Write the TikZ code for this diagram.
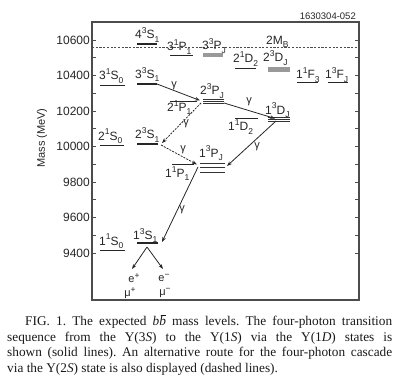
\documentclass[tikz,border=0pt]{standalone}
\usepackage{fontspec}
\setmainfont{Liberation Serif}
\setsansfont{Liberation Sans}
\newfontfamily\labfont{Liberation Sans}
\usetikzlibrary{arrows.meta}
\newcommand{\sups}[1]{\raisebox{0.42em}{\fontsize{8.5}{9}\selectfont #1}}
\newcommand{\subs}[1]{\raisebox{-0.28em}{\fontsize{8.5}{9}\selectfont #1}}
\newcommand{\st}[4]{#1\sups{#2}#3\subs{#4}}
\newcommand{\bbar}{\textit{b}\makebox[0pt][l]{\raisebox{0.74em}{\kern1.6pt\rule{0.4em}{0.55pt}}}\textit{b}}
\tikzset{
  lbl/.style={anchor=base west, inner sep=0pt, font=\labfont\fontsize{12}{14}\selectfont, text=black!85},
  ctr/.style={anchor=center, inner sep=0pt, font=\labfont\fontsize{11}{12}\selectfont, text=black!85},
  obs/.style={line width=2pt, draw=black!85},
  pred/.style={line width=0.7pt, draw=black!85},
  multi/.style={line width=0.8pt, draw=black!80},
  graybar/.style={fill=black!40, draw=none},
  arr/.style={-{Stealth[length=5pt,width=3.6pt]}, line width=0.8pt, draw=black!85},
  dsh/.style={arr, dash pattern=on 2pt off 1.2pt},
  gam/.style={inner sep=0pt, font=\labfont\fontsize{11}{12}\selectfont, text=black!85},
  frame/.style={line width=1.3pt, draw=black!70},
}
\begin{document}
\begin{tikzpicture}[x=1pt,y=-1pt]
\useasboundingbox (0,0) rectangle (395,382);
% frame and axes
\draw[frame] (92,22) rectangle (359,300);
\foreach \m in {9400,9500,...,10600}{
  \draw[line width=0.6pt, black!70] (92,{40+(10600-\m)*0.1775}) -- ++(4,0);
  \draw[line width=0.6pt, black!70] (359,{40+(10600-\m)*0.1775}) -- ++(-4,0);
}
\foreach \m in {9400,9600,...,10600}{
  \node[anchor=east, inner sep=0pt, font=\labfont\fontsize{12}{14}\selectfont, text=black!85] at (90,{40+(10600-\m)*0.1775}) {\m};
}
\node[rotate=90, inner sep=0pt, font=\labfont\fontsize{11}{13}\selectfont, text=black!85] (ylab) at (42,138) {Mass (MeV)};
\node[anchor=base east, inner sep=0pt, font=\labfont\fontsize{9.5}{11}\selectfont, text=black!85] (id) at (356,20) {1630304-052};
% 2MB threshold
\coordinate (thL) at (92,47.5);
\coordinate (thR) at (359,47.5);
\draw[line width=0.6pt, black!70, dash pattern=on 2.2pt off 1.5pt] (thL) -- (thR);
\node[lbl] (mb) at (266,44.5) {2M\subs{B}};

% S singlets (predicted)
\draw[pred] (100,85) -- (125,85);   \node[lbl] (s31) at (99,80) {\st{3}{1}{S}{0}};
\draw[pred] (100,145) -- (124,145); \node[lbl] (s21) at (98,140) {\st{2}{1}{S}{0}};
\draw[pred] (100,250) -- (125,250); \node[lbl] (s11) at (99,245) {\st{1}{1}{S}{0}};
% S triplets (observed)
\coordinate (s4L) at (137,44);  \coordinate (s4R) at (157,44);
\coordinate (s3L) at (137,84);  \coordinate (s3R) at (157,84);
\coordinate (s2L) at (137,144); \coordinate (s2R) at (158,144);
\coordinate (s1L) at (137,243); \coordinate (s1R) at (158,243);
\draw[obs] (s4L) -- (s4R); \node[lbl] (t4) at (135,39) {\st{4}{3}{S}{1}};
\draw[obs] (s3L) -- (s3R); \node[lbl] (t3) at (135,78.5) {\st{3}{3}{S}{1}};
\draw[obs] (s2L) -- (s2R); \node[lbl] (t2) at (135,139) {\st{2}{3}{S}{1}};
\draw[obs] (s1L) -- (s1R); \node[lbl] (t1) at (133,239.5) {\st{1}{3}{S}{1}};
% P states
\draw[pred] (170,55) -- (193,55); \node[lbl] (p31) at (167,51) {\st{3}{1}{P}{1}};
\fill[graybar] (203,53) rectangle (223,57.5);
\node[lbl] (p33) at (202,50) {\st{3}{3}{P}{J}};
\foreach \y in {99,101,103} \draw[multi] (203,\y) -- (224,\y);
\node[lbl] (p23) at (200,95) {\st{2}{3}{P}{J}};
\draw[pred] (170,101) -- (197,101); \node[lbl] (p21) at (167,111.5) {\st{2}{1}{P}{1}};
\foreach \y in {163,167.5,172} \draw[multi] (200,\y) -- (225,\y);
\node[lbl] (p13) at (199,157) {\st{1}{3}{P}{J}};
\draw[pred] (172,164) -- (194,164); \node[lbl] (p11) at (165,177.5) {\st{1}{1}{P}{1}};
% D states
\draw[pred] (235,68) -- (256,68); \node[lbl] (d21) at (233,63) {\st{2}{1}{D}{2}};
\fill[graybar] (268,67.5) rectangle (290,72);
\node[lbl] (d23) at (263,62) {\st{2}{3}{D}{J}};
\foreach \y in {117,119,121} \draw[multi] (268,\y) -- (290,\y);
\node[lbl] (d13) at (265,114) {\st{1}{3}{D}{J}};
\draw[pred] (235,118) -- (258,118); \node[lbl] (d11) at (228,131) {\st{1}{1}{D}{2}};
% F states
\draw[pred] (297,82) -- (318,82); \node[lbl] (f11) at (296,79) {\st{1}{1}{F}{3}};
\draw[pred] (328,82) -- (348,82); \node[lbl] (f13) at (325,79) {\st{1}{3}{F}{J}};

% transitions
\coordinate (a1s) at (157,84);   \coordinate (a1e) at (200,100.5);
\coordinate (a2s) at (201,103);  \coordinate (a2e) at (162,143);
\coordinate (a3s) at (161,145);  \coordinate (a3e) at (197,164.5);
\coordinate (a4s) at (224,103);  \coordinate (a4e) at (275,118.5);
\coordinate (a5s) at (276,121);  \coordinate (a5e) at (227,166);
\coordinate (a6s) at (198,167);  \coordinate (a6e) at (162,242);
\draw[arr] (a1s) -- (a1e);
\draw[dsh] (a2s) -- (a2e);
\draw[dsh] (a3s) -- (a3e);
\draw[arr] (a4s) -- (a4e);
\draw[arr] (a5s) -- (a5e);
\draw[arr] (a6s) -- (a6e);
\node[gam] (g1) at (174,86) {γ};
\node[gam] (g2) at (186,124) {γ};
\node[gam] (g3) at (183,150) {γ};
\node[gam] (g4) at (249,102) {γ};
\node[gam] (g5) at (257,147) {γ};
\node[gam] (g6) at (182,210) {γ};

% decays
\coordinate (dec) at (147,247);
\coordinate (decL) at (132,269);
\coordinate (decR) at (163,269);
\draw[arr] (dec) -- (decL);
\draw[arr] (dec) -- (decR);
\node[ctr] (ep) at (134,278) {e\sups{+}};
\node[ctr] (em) at (164,278) {e\sups{−}};
\node[ctr] (mp) at (130,293) {μ\sups{+}};
\node[ctr] (mm) at (165,293) {μ\sups{−}};

% caption
\node[anchor=north west, inner sep=0pt, text width=385pt, align=justify,
      font=\rmfamily\fontsize{13.3}{15.5}\selectfont, text=black!90] (cap) at (7,315)
 {\frenchspacing\hyphenpenalty=10000\emergencystretch=3em\hspace*{18pt}FIG.~1. The expected \bbar{} mass levels. The four-photon transition\linebreak sequence from the Υ(3\textit{S}) to the Υ(1\textit{S}) via the Υ(1\textit{D}) states is\linebreak shown (solid lines). An alternative route for the four-photon cascade\linebreak via the Υ(2\textit{S}) state is also displayed (dashed lines).};
\end{tikzpicture}
\end{document}
